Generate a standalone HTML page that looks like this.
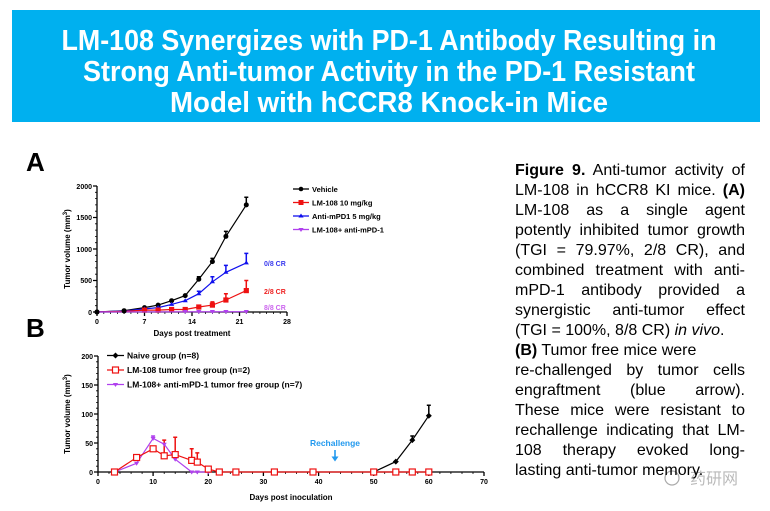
<!DOCTYPE html>
<html><head><meta charset="utf-8"><style>
html,body{margin:0;padding:0;background:#fff;}
svg{display:block;font-family:"Liberation Sans",Arial,sans-serif;}
#txt{position:absolute;left:515px;top:161px;width:230px;font-family:"Liberation Sans",Arial,sans-serif;font-size:16px;line-height:20px;color:#000;}
#txt div{text-align:justify;text-align-last:justify;white-space:nowrap;height:20px;}
#txt div.l{text-align-last:left;}
</style></head><body>
<div id="txt">
<div><b>Figure 9.</b> Anti-tumor activity of</div>
<div>LM-108 in hCCR8 KI mice. <b>(A)</b></div>
<div>LM-108 as a single agent</div>
<div>potently inhibited tumor growth</div>
<div>(TGI = 79.97%, 2/8 CR), and</div>
<div>combined treatment with anti-</div>
<div>mPD-1 antibody provided a</div>
<div>synergistic anti-tumor effect</div>
<div class="l">(TGI = 100%, 8/8 CR) <i>in vivo</i>.</div>
<div class="l"><b>(B)</b> Tumor free mice were</div>
<div>re-challenged by tumor cells</div>
<div>engraftment (blue arrow).</div>
<div>These mice were resistant to</div>
<div>rechallenge indicating that LM-</div>
<div>108 therapy evoked long-</div>
<div class="l">lasting anti-tumor memory.</div>
</div>
<svg width="770" height="511" viewBox="0 0 770 511" xmlns="http://www.w3.org/2000/svg">
<rect x="12" y="10" width="748" height="112" fill="#00b0ef"/>
<g fill="#fff" font-weight="bold" font-size="29" text-anchor="middle">
<text x="389" y="50" textLength="655" lengthAdjust="spacingAndGlyphs">LM-108 Synergizes with PD-1 Antibody Resulting in</text>
<text x="389" y="81" textLength="612" lengthAdjust="spacingAndGlyphs">Strong Anti-tumor Activity in the PD-1 Resistant</text>
<text x="389" y="112" textLength="438" lengthAdjust="spacingAndGlyphs">Model with hCCR8 Knock-in Mice</text>
</g>
<g font-weight="bold" font-size="26" fill="#000"><text x="26" y="171">A</text><text x="26" y="337">B</text></g>

<g fill="#aaa" font-size="16" font-family="'Liberation Sans','Noto Sans CJK SC',sans-serif" opacity="0.8"><text x="690" y="484">药研网</text></g>
<circle cx="672" cy="478" r="7" fill="none" stroke="#aaa" stroke-width="1.2"/>

<!-- Chart A axes -->
<g stroke="#000" stroke-width="1.3" fill="none">
<path d="M97 186V312H287"/>
<path d="M93 186H97M93 217.5H97M93 249H97M93 280.5H97M93 312H97"/>
<path d="M95 192.3H97M95 198.6H97M95 204.9H97M95 211.2H97M95 223.8H97M95 230.1H97M95 236.4H97M95 242.7H97M95 255.3H97M95 261.6H97M95 267.9H97M95 274.2H97M95 286.8H97M95 293.1H97M95 299.4H97M95 305.7H97" stroke-width="0.8"/>
<path d="M97 312V316M144.5 312V316M192 312V316M239.5 312V316M287 312V316"/>
<path d="M103.8 312V314M110.6 312V314M117.4 312V314M124.1 312V314M130.9 312V314M137.7 312V314M151.3 312V314M158.1 312V314M164.9 312V314M171.6 312V314M178.4 312V314M185.2 312V314M198.8 312V314M205.6 312V314M212.4 312V314M219.1 312V314M225.9 312V314M232.7 312V314M246.3 312V314M253.1 312V314M259.9 312V314M266.6 312V314M273.4 312V314M280.2 312V314" stroke-width="0.8"/>
</g>
<g font-size="7" font-weight="bold" text-anchor="end">
<text x="92" y="189">2000</text><text x="92" y="220">1500</text><text x="92" y="252">1000</text><text x="92" y="283">500</text><text x="92" y="315">0</text>
</g>
<g font-size="7" font-weight="bold" text-anchor="middle">
<text x="97" y="324">0</text><text x="144.5" y="324">7</text><text x="192" y="324">14</text><text x="239.5" y="324">21</text><text x="287" y="324">28</text>
<text x="192" y="336" font-size="8">Days post treatment</text>
</g>
<text transform="translate(70 249) rotate(-90)" font-size="8" font-weight="bold" text-anchor="middle">Tumor volume (mm<tspan dy="-3" font-size="6">3</tspan><tspan dy="3">)</tspan></text>

<g stroke-width="1.5" fill="none">
<path stroke="#000" d="M198.8 279.2V276.7M196.8 276.7H200.8M212.4 261.6V258.4M210.4 258.4H214.4M225.9 236.4V231.4M223.9 231.4H227.9M246.3 204.9V197.3M244.3 197.3H248.3"/>
<path stroke="#1010ee" d="M198.8 293.7V291.2M196.8 291.2H200.8M212.4 281.8V276.7M210.4 276.7H214.4M225.9 272.3V265.4M223.9 265.4H227.9M246.3 262.9V253.4M244.3 253.4H248.3"/>
<path stroke="#ee1111" d="M212.4 305.1V301.9M210.4 301.9H214.4M225.9 300V293.7M223.9 293.7H227.9M246.3 290.6V280.5M244.3 280.5H248.3"/>
</g>
<polyline fill="none" stroke="#000" stroke-width="1.2" points="97,312 124.1,310.7 144.5,307.6 158.1,305.1 171.6,300.7 185.2,295.6 198.8,279.2 212.4,261.6 225.9,236.4 246.3,204.9"/>
<g fill="#000"><circle cx="97" cy="312" r="2.5"/><circle cx="124.1" cy="310.7" r="2.5"/><circle cx="144.5" cy="307.6" r="2.5"/><circle cx="158.1" cy="305.1" r="2.5"/><circle cx="171.6" cy="300.7" r="2.5"/><circle cx="185.2" cy="295.6" r="2.5"/><circle cx="198.8" cy="279.2" r="2.5"/><circle cx="212.4" cy="261.6" r="2.5"/><circle cx="225.9" cy="236.4" r="2.5"/><circle cx="246.3" cy="204.9" r="2.5"/></g>
<polyline fill="none" stroke="#1010ee" stroke-width="1.2" points="97,312 124.1,311 144.5,308.9 158.1,307.6 171.6,304.4 185.2,300.7 198.8,293.7 212.4,281.8 225.9,272.3 246.3,262.9"/>
<g fill="#1010ee"><path d="M144.5 306.4l2.6 4h-5.2zM158.1 305.1l2.6 4h-5.2zM171.6 301.9l2.6 4h-5.2zM185.2 298.2l2.6 4h-5.2zM198.8 291.2l2.6 4h-5.2zM212.4 279.3l2.6 4h-5.2zM225.9 269.8l2.6 4h-5.2zM246.3 260.4l2.6 4h-5.2z"/></g>
<polyline fill="none" stroke="#ee1111" stroke-width="1.2" points="97,312 124.1,311.4 144.5,310.1 158.1,310.1 171.6,309.5 185.2,309.5 198.8,307 212.4,305.1 225.9,300 246.3,290.6"/>
<g fill="#ee1111"><rect x="141.9" y="307.5" width="5.2" height="5.2"/><rect x="155.5" y="307.5" width="5.2" height="5.2"/><rect x="169" y="306.9" width="5.2" height="5.2"/><rect x="182.6" y="306.9" width="5.2" height="5.2"/><rect x="196.2" y="304.4" width="5.2" height="5.2"/><rect x="209.8" y="302.5" width="5.2" height="5.2"/><rect x="223.3" y="297.4" width="5.2" height="5.2"/><rect x="243.7" y="288" width="5.2" height="5.2"/></g>
<polyline fill="none" stroke="#b040ee" stroke-width="1.2" points="97,312 246.3,311.7"/>
<g fill="#b040ee"><path d="M185.2 314l2.6-4h-5.2zM198.8 314l2.6-4h-5.2zM212.4 314l2.6-4h-5.2zM225.9 314l2.6-4h-5.2zM246.3 314l2.6-4h-5.2z"/></g>
<g fill="#000"><circle cx="97" cy="312" r="2.5"/><circle cx="124.1" cy="311" r="2.5"/></g>
<g font-size="7" font-weight="bold">
<text x="264" y="266" fill="#3a3aee">0/8 CR</text><text x="264" y="294" fill="#ee2222">2/8 CR</text><text x="264" y="310" fill="#cc66ee">8/8 CR</text>
</g>
<g stroke-width="1.3">
<line x1="293" y1="189" x2="309" y2="189" stroke="#000"/><circle cx="301" cy="189" r="2.3" fill="#000"/>
<line x1="293" y1="202.5" x2="309" y2="202.5" stroke="#ee1111"/><rect x="298.5" y="200" width="5" height="5" fill="#ee1111"/>
<line x1="293" y1="216" x2="309" y2="216" stroke="#1010ee"/><path d="M301 213.5l2.6 4h-5.2z" fill="#1010ee"/>
<line x1="293" y1="229.5" x2="309" y2="229.5" stroke="#b040ee"/><path d="M301 232l2.6-4h-5.2z" fill="#b040ee"/>
</g>
<g font-size="7.5" font-weight="bold">
<text x="312" y="192">Vehicle</text><text x="312" y="205.5">LM-108 10 mg/kg</text><text x="312" y="219">Anti-mPD1 5 mg/kg</text><text x="312" y="232.5">LM-108+ anti-mPD-1</text>
</g>

<!-- Chart B axes -->
<g stroke="#000" stroke-width="1.3" fill="none">
<path d="M98 356V472H484"/>
<path d="M94 356H98M94 385H98M94 414H98M94 443H98M94 472H98"/>
<path d="M96 361.8H98M96 367.6H98M96 373.4H98M96 379.2H98M96 390.8H98M96 396.6H98M96 402.4H98M96 408.2H98M96 419.8H98M96 425.6H98M96 431.4H98M96 437.2H98M96 448.8H98M96 454.6H98M96 460.4H98M96 466.2H98" stroke-width="0.8"/>
<path d="M98 472V476M153.1 472V476M208.3 472V476M263.4 472V476M318.6 472V476M373.7 472V476M428.8 472V476M484 472V476"/>
<path d="M109 472V474M120 472V474M131.1 472V474M142.1 472V474M164.2 472V474M175.2 472V474M186.2 472V474M197.3 472V474M219.3 472V474M230.3 472V474M241.4 472V474M252.4 472V474M274.4 472V474M285.5 472V474M296.5 472V474M307.6 472V474M329.6 472V474M340.6 472V474M351.7 472V474M362.7 472V474M384.7 472V474M395.8 472V474M406.8 472V474M417.8 472V474M439.9 472V474M450.9 472V474M462 472V474M473 472V474" stroke-width="0.8"/>
</g>
<g font-size="7" font-weight="bold" text-anchor="end">
<text x="93" y="359">200</text><text x="93" y="388">150</text><text x="93" y="417">100</text><text x="93" y="446">50</text><text x="93" y="475">0</text>
</g>
<g font-size="7" font-weight="bold" text-anchor="middle">
<text x="98" y="484">0</text><text x="153.1" y="484">10</text><text x="208.3" y="484">20</text><text x="263.4" y="484">30</text><text x="318.6" y="484">40</text><text x="373.7" y="484">50</text><text x="428.8" y="484">60</text><text x="484" y="484">70</text>
<text x="291" y="500" font-size="8">Days post inoculation</text>
</g>
<text transform="translate(70 414) rotate(-90)" font-size="8" font-weight="bold" text-anchor="middle">Tumor volume (mm<tspan dy="-3" font-size="6">3</tspan><tspan dy="3">)</tspan></text>
<g stroke-width="1.5" fill="none">
<path stroke="#ee1111" d="M164.2 455.8V440.1M162.2 440.1H166.2M175.2 454.6V437.2M173.2 437.2H177.2M191.7 460.4V448.8M189.7 448.8H193.7M197.3 462.1V452.9M195.3 452.9H199.3M208.3 469.1V466.2M206.3 466.2H210.3"/>
<path stroke="#000" d="M412.3 440.1V436M410.3 436H414.3M428.8 415.7V405.3M426.8 405.3H430.8"/>
<path stroke="#b040ee" d="M153.1 438.4V436M151.1 436H155.1"/>
</g>
<polyline fill="none" stroke="#000" stroke-width="1.2" points="373.7,472 395.8,461.6 412.3,440.1 428.8,415.7"/>
<g fill="#000"><path d="M395.8 458.6l3 3-3 3-3-3zM412.3 437.1l3 3-3 3-3-3zM428.8 412.7l3 3-3 3-3-3z"/></g>
<polyline fill="none" stroke="#b040ee" stroke-width="1.2" points="114.5,472 136.6,463.3 153.1,438.4 164.2,444.2 175.2,459.2 191.7,472 197.3,472 208.3,472"/>
<g fill="#b040ee"><path d="M136.6 465.8l2.6-4h-5.2zM153.1 440.9l2.6-4h-5.2zM164.2 446.7l2.6-4h-5.2zM175.2 461.7l2.6-4h-5.2zM191.7 474.5l2.6-4h-5.2zM197.3 474.5l2.6-4h-5.2zM208.3 474.5l2.6-4h-5.2z"/></g>
<polyline fill="none" stroke="#ee1111" stroke-width="1.2" points="114.5,472 136.6,457.5 153.1,448.8 164.2,455.8 175.2,454.6 191.7,460.4 197.3,462.1 208.3,469.1 219.3,472 235.9,472 274.4,472 313,472 373.7,472 395.8,472 412.3,472 428.8,472"/>
<g fill="#fff" stroke="#ee1111" stroke-width="1.2"><rect x="111.5" y="469" width="6" height="6"/><rect x="133.6" y="454.5" width="6" height="6"/><rect x="150.1" y="445.8" width="6" height="6"/><rect x="161.2" y="452.8" width="6" height="6"/><rect x="172.2" y="451.6" width="6" height="6"/><rect x="188.7" y="457.4" width="6" height="6"/><rect x="194.3" y="459.1" width="6" height="6"/><rect x="205.3" y="466.1" width="6" height="6"/><rect x="216.3" y="469" width="6" height="6"/><rect x="232.9" y="469" width="6" height="6"/><rect x="271.4" y="469" width="6" height="6"/><rect x="310" y="469" width="6" height="6"/><rect x="370.7" y="469" width="6" height="6"/><rect x="392.8" y="469" width="6" height="6"/><rect x="409.3" y="469" width="6" height="6"/><rect x="425.8" y="469" width="6" height="6"/></g>
<text x="335" y="446" font-size="8.5" font-weight="bold" fill="#2299ee" text-anchor="middle">Rechallenge</text>
<path d="M335 450V458" stroke="#2299ee" stroke-width="1.6"/><path d="M331.5 456.5h7l-3.5 5z" fill="#2299ee"/>
<g stroke-width="1.3">
<line x1="107" y1="355.5" x2="124" y2="355.5" stroke="#000"/><path d="M115.5 352.5l3 3-3 3-3-3z" fill="#000"/>
<line x1="107" y1="370" x2="124" y2="370" stroke="#ee1111"/><rect x="112.5" y="367" width="6" height="6" fill="#fff" stroke="#ee1111" stroke-width="1.2"/>
<line x1="107" y1="384.5" x2="124" y2="384.5" stroke="#b040ee"/><path d="M115.5 387l2.6-4h-5.2z" fill="#b040ee"/>
</g>
<g font-size="8.5" font-weight="bold">
<text x="127" y="358.5">Naive group (n=8)</text><text x="127" y="373">LM-108 tumor free group (n=2)</text><text x="127" y="387.5">LM-108+ anti-mPD-1 tumor free group (n=7)</text>
</g>
</svg>
</body></html>
